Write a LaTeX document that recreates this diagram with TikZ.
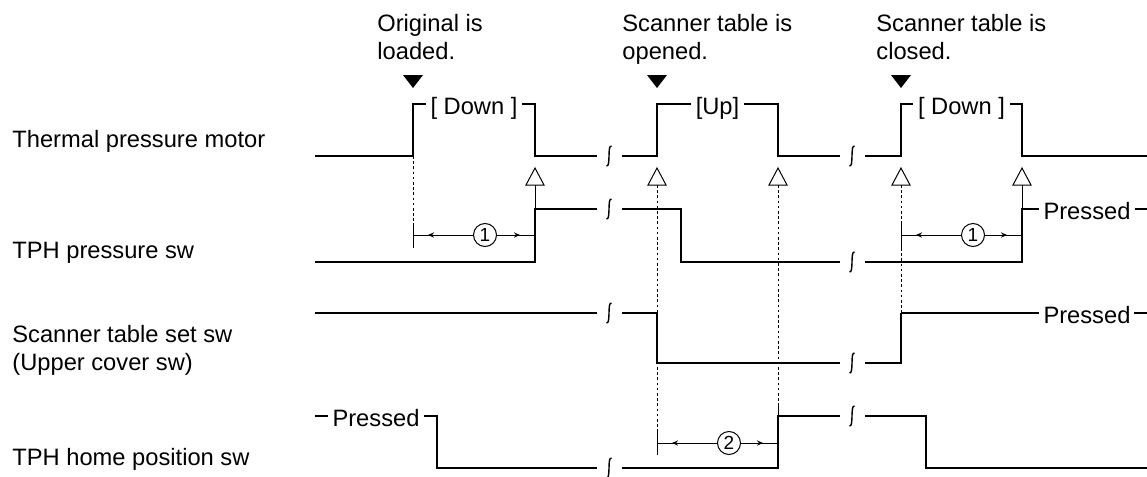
\documentclass[tikz,border=0pt]{standalone}
\usepackage{fontspec}
\setmainfont{Liberation Sans}
\usetikzlibrary{arrows.meta,decorations.markings}

\begin{document}
\begin{tikzpicture}[x=0.5pt,y=-0.5pt, every node/.style={font=\fontsize{11.85}{14}\selectfont}, txt/.style={inner sep=0pt}, wave/.style={line width=1.4pt}, lead/.style={line width=0.5pt}, dots/.style={line width=0.5pt,dash pattern=on 1.3pt off 1.3pt}, tag/.style={fill=white,inner xsep=2.5pt,inner ysep=0pt,anchor=base,yshift=-5pt}, num/.style={draw,circle,line width=0.5pt,inner sep=0pt,minimum size=11.5pt,font=\fontsize{9.5}{10}\selectfont}, dim/.style={lead,postaction={decorate},decoration={markings,mark=at position -7.5pt with {\arrow{Stealth[length=3pt,width=2.6pt]}}}}, brk/.pic={\draw[line width=0.7pt] (2.5,-10) .. controls (-2,-11) and (2,11) .. (-2.5,10);}, evt/.pic={\fill (-10,0) -- (10,0) -- (0,13) -- cycle;}, chk/.pic={\draw[lead,fill=white] (0,0) -- (9,17) -- (-9,17) -- cycle;}]
\useasboundingbox (0,0) rectangle (1147,477);
\node[txt,anchor=base west] (mtr) at (12,147) {Thermal pressure motor};
\node[txt,anchor=base west] (psw) at (12,258) {TPH pressure sw};
\node[txt,anchor=north west,align=left] (tsw) at (12,325) {Scanner table set sw\\(Upper cover sw)};
\node[txt,anchor=base west] (hsw) at (12,465) {TPH home position sw};
\node[txt,anchor=north west,align=left] (ld) at (377,14) {Original is\\loaded.};
\node[txt,anchor=north west,align=left] (op) at (622,14) {Scanner table is\\opened.};
\node[txt,anchor=north west,align=left] (cl) at (876,14) {Scanner table is\\closed.};
\draw[wave] (315,156) -- (413,156) -- (413,104) -- node[tag]{[ Down ]} (535,104) -- (535,156) -- (597,156);
\draw[wave] (622,156) -- (657,156) -- (657,104) -- node[tag]{[Up]} (778,104) -- (778,156) -- (840,156);
\draw[wave] (865,156) -- (901,156) -- (901,104) -- node[tag]{[ Down ]} (1022,104) -- (1022,156) -- (1147,156);
\draw[wave] (315,262) -- (535,262) -- (535,209) -- (597,209);
\draw[wave] (622,209) -- (681,209) -- (681,262) -- (840,262);
\draw[wave] (865,262) -- (1022,262) -- (1022,209) -- node[tag,pos=0.52]{Pressed} (1147,209);
\draw[wave] (315,313) -- (597,313);
\draw[wave] (622,313) -- (657,313) -- (657,363) -- (840,363);
\draw[wave] (865,363) -- (901,363) -- (901,313);
\draw[line width=0.7pt] (901,313) -- node[tag,pos=0.756]{Pressed} (1147,313);
\draw[wave] (1134,313) -- (1147,313);
\draw[wave] (315,416) -- node[tag]{Pressed} (437,416) -- (437,468) -- (597,468);
\draw[wave] (622,468) -- (778,468) -- (778,416) -- (840,416);
\draw[wave] (865,416) -- (926,416) -- (926,468) -- (1147,468);
\foreach \x/\y in {609/156,609/209,609/313,609/468,852/156,852/262,852/363,852/416} \pic at (\x,\y) {brk};
\foreach \x in {413,657,901} \pic at (\x,75) {evt};
\foreach \x [count=\i] in {535,657,778,901,1022} {\pic at (\x,168) {chk}; \coordinate (c\i) at (\x,185);}
\coordinate (f1) at (413,156); \coordinate (t1) at (413,223); \coordinate (b1) at (413,248);
\coordinate (t2) at (901,223); \coordinate (b2) at (901,248); \coordinate (r3) at (901,313);
\coordinate (t3) at (657,430); \coordinate (b3) at (657,455);
\coordinate (p1) at (535,209); \coordinate (p2) at (1022,209);
\coordinate (h4) at (778,403); \coordinate (r4) at (778,416);
\draw[dots] (f1) -- (t1); \draw[lead] (t1) -- (b1);
\draw[lead] (c1) -- (p1); \draw[lead] (c5) -- (p2);
\draw[dots] (c2) -- (t3); \draw[lead] (t3) -- (b3);
\draw[dots] (c3) -- (h4); \draw[lead] (h4) -- (r4);
\draw[dots] (c4) -- (t2); \draw[lead] (t2) -- (b2); \draw[dots] (b2) -- (r3);
\node[num] (n1) at (485,235) {1};
\node[num] (n2) at (973,235) {1};
\node[num] (n3) at (729,443) {2};
\coordinate (d1) at (413,235); \coordinate (d2) at (535,235);
\coordinate (d3) at (901,235); \coordinate (d4) at (1022,235);
\coordinate (d5) at (657,443); \coordinate (d6) at (778,443);
\draw[dim] (n1) -- (d1); \draw[dim] (n1) -- (d2);
\draw[dim] (n2) -- (d3); \draw[dim] (n2) -- (d4);
\draw[dim] (n3) -- (d5); \draw[dim] (n3) -- (d6);
\end{tikzpicture}
\end{document}
